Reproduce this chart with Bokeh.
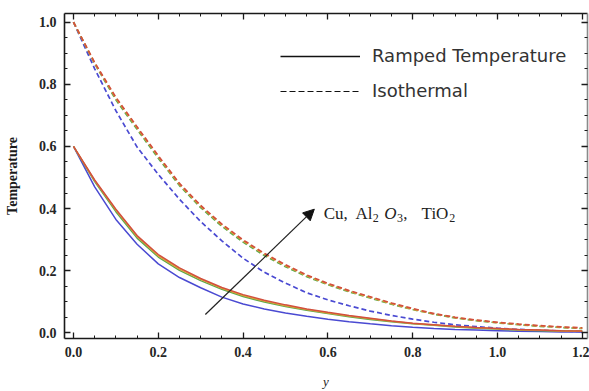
import numpy as np
from bokeh.plotting import figure
from bokeh.models import (Range1d, LinearAxis, SingleIntervalTicker, PrintfTickFormatter,
                          CustomJSTickFormatter, Legend, LegendItem, Arrow, NormalHead, Label)
from bokeh.embed import file_html
from bokeh.resources import INLINE

# distance from the plate
y_coord = [0.00, 0.05, 0.10, 0.15, 0.20, 0.25, 0.30, 0.35, 0.40, 0.45, 0.50, 0.55, 0.60,
           0.65, 0.70, 0.75, 0.80, 0.85, 0.90, 0.95, 1.00, 1.05, 1.10, 1.15, 1.20]

# ramped wall temperature profiles
ramped_blue = [0.600, 0.470, 0.365, 0.285, 0.222, 0.178, 0.145, 0.115, 0.093, 0.077, 0.064, 0.053, 0.044,
               0.036, 0.029, 0.023, 0.018, 0.014, 0.011, 0.009, 0.007, 0.005, 0.004, 0.003, 0.003]
ramped_green = [0.600, 0.487, 0.390, 0.305, 0.244, 0.201, 0.168, 0.140, 0.117, 0.099, 0.085, 0.073, 0.062,
                0.052, 0.043, 0.036, 0.029, 0.024, 0.019, 0.015, 0.012, 0.009, 0.007, 0.006, 0.005]
ramped_orange = [0.600, 0.490, 0.395, 0.310, 0.248, 0.205, 0.172, 0.143, 0.120, 0.102, 0.087, 0.075, 0.064,
                 0.054, 0.045, 0.037, 0.030, 0.025, 0.020, 0.016, 0.013, 0.010, 0.008, 0.006, 0.005]
ramped_red = [0.600, 0.492, 0.398, 0.313, 0.252, 0.209, 0.175, 0.146, 0.123, 0.105, 0.090, 0.077, 0.066,
              0.056, 0.047, 0.038, 0.031, 0.026, 0.021, 0.017, 0.014, 0.011, 0.009, 0.007, 0.006]

# isothermal wall temperature profiles
iso_blue = [1.000, 0.850, 0.715, 0.598, 0.510, 0.430, 0.358, 0.296, 0.240, 0.195, 0.160, 0.129, 0.106,
            0.087, 0.070, 0.056, 0.044, 0.034, 0.026, 0.020, 0.015, 0.011, 0.008, 0.006, 0.004]
iso_green = [1.000, 0.866, 0.750, 0.655, 0.562, 0.474, 0.403, 0.343, 0.292, 0.249, 0.213, 0.181, 0.155,
             0.132, 0.112, 0.092, 0.075, 0.060, 0.048, 0.039, 0.032, 0.026, 0.021, 0.017, 0.014]
iso_orange = [1.000, 0.868, 0.755, 0.660, 0.567, 0.478, 0.407, 0.347, 0.296, 0.253, 0.216, 0.184, 0.157,
              0.134, 0.114, 0.094, 0.076, 0.061, 0.049, 0.040, 0.033, 0.027, 0.022, 0.018, 0.015]
iso_red = [1.000, 0.870, 0.758, 0.663, 0.570, 0.481, 0.410, 0.350, 0.299, 0.256, 0.219, 0.186, 0.159,
           0.136, 0.116, 0.096, 0.078, 0.062, 0.050, 0.041, 0.034, 0.028, 0.023, 0.019, 0.016]

colors = {"blue": "#4a4ad2", "green": "#5aa84c", "orange": "#dca238", "red": "#d2503e"}

p = figure(width=589, height=391, output_backend="svg", toolbar_location=None,
           x_range=Range1d(-0.0212, 1.2123), y_range=Range1d(-0.0183, 1.028),
           min_border_left=64, min_border_right=2, min_border_top=13, min_border_bottom=52,
           x_axis_label="y", y_axis_label="Temperature")
p.grid.visible = False
p.outline_line_color = None
p.background_fill_color = "white"
p.border_fill_color = "white"

fmt = PrintfTickFormatter(format="%.1f")
blank_fmt = CustomJSTickFormatter(code="return '';")


def style_axis(ax, show_labels):
    ax.ticker = SingleIntervalTicker(interval=0.2, num_minor_ticks=4)
    ax.major_tick_in = 6
    ax.major_tick_out = 0
    ax.minor_tick_in = 3
    ax.minor_tick_out = 0
    ax.axis_line_color = "#1a1a1a"
    ax.axis_line_width = 1.6
    ax.major_tick_line_color = "#1a1a1a"
    ax.major_tick_line_width = 1.3
    ax.minor_tick_line_color = "#1a1a1a"
    ax.minor_tick_line_width = 1.0
    if show_labels:
        ax.formatter = fmt
        ax.major_label_text_font = "Liberation Serif"
        ax.major_label_text_font_style = "bold"
        ax.major_label_text_font_size = "14px"
        ax.major_label_text_color = "#262626"
        ax.axis_label_text_font = "Liberation Serif"
        ax.axis_label_text_color = "#1a1a1a"
        ax.axis_label_text_font_size = "13px"
    else:
        ax.formatter = blank_fmt
        ax.major_label_standoff = 0


style_axis(p.xaxis[0], True)
style_axis(p.yaxis[0], True)
p.yaxis[0].major_label_standoff = 8
p.yaxis[0].axis_label_standoff = 16
p.yaxis[0].axis_label_text_font_style = "bold"
p.yaxis[0].axis_label_text_font_size = "14px"
p.xaxis[0].major_label_standoff = 8
p.xaxis[0].axis_label_standoff = 14
p.xaxis[0].axis_label_text_font_style = "italic"

top_axis = LinearAxis()
style_axis(top_axis, False)
p.add_layout(top_axis, "above")
right_axis = LinearAxis()
style_axis(right_axis, False)
right_axis.axis_line_color = "#8a8a8a"
p.add_layout(right_axis, "right")

dash = "5 3"
for name, ys in [("blue", iso_blue), ("green", iso_green), ("orange", iso_orange), ("red", iso_red)]:
    p.line(y_coord, ys, line_color=colors[name], line_width=1.7, line_dash=dash)
for name, ys in [("blue", ramped_blue), ("green", ramped_green), ("orange", ramped_orange), ("red", ramped_red)]:
    p.line(y_coord, ys, line_color=colors[name], line_width=1.5)

# legend keys in black; their single point is NaN so nothing is plotted
nan_pt = np.array([np.nan])
key_solid = p.line(nan_pt, nan_pt, line_color="#111111", line_width=1.4)
key_dash = p.line(nan_pt, nan_pt, line_color="#111111", line_width=1.2, line_dash="6 3")
legend = Legend(items=[LegendItem(label="Ramped Temperature", renderers=[key_solid], index=0),
                       LegendItem(label="Isothermal", renderers=[key_dash], index=0)],
                location=(216, 237), glyph_width=80, glyph_height=20, label_height=20,
                spacing=14, padding=0, margin=0, label_standoff=12,
                background_fill_alpha=0, border_line_alpha=0,
                label_text_font="DejaVu Sans", label_text_font_size="18px",
                label_text_color="#333333")
p.add_layout(legend)

# direction of increasing nanoparticle effect
p.add_layout(Arrow(x_start=0.311, y_start=0.059, x_end=0.568, y_end=0.398,
                   line_color="#222222", line_width=1.2,
                   end=NormalHead(size=11, fill_color="#111111", line_color="#111111")))

serif = "Liberation Serif"
pieces = [
    ("Cu,", 0.590, 0.384, "17px", "normal"),
    ("Al", 0.665, 0.384, "17px", "normal"),
    ("2", 0.706, 0.371, "12px", "normal"),
    ("O", 0.733, 0.384, "17px", "italic"),
    ("3", 0.763, 0.371, "12px", "normal"),
    (",", 0.778, 0.384, "17px", "normal"),
    ("TiO", 0.821, 0.384, "17px", "normal"),
    ("2", 0.886, 0.371, "12px", "normal"),
]
for txt, lx, ly, size, style in pieces:
    p.add_layout(Label(x=lx, y=ly, text=txt, text_font=serif, text_font_size=size,
                       text_font_style=style, text_color="#222222",
                       text_baseline="alphabetic", text_align="left"))

open("out.html", "w").write(file_html(p, INLINE))
